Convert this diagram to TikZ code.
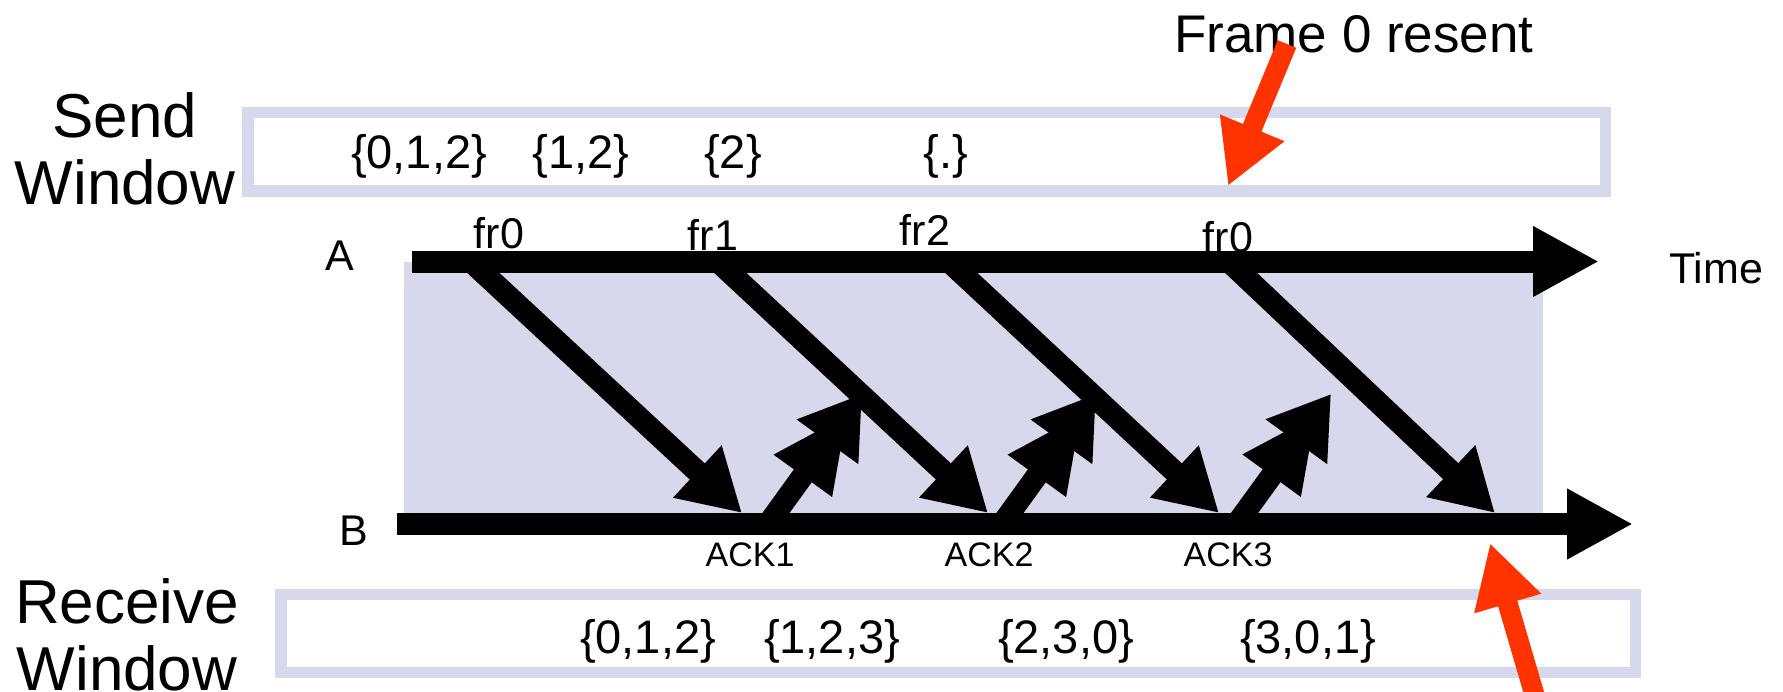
\documentclass[tikz,border=0pt]{standalone}
\usepackage{fontspec}
\setmainfont{Liberation Sans}
\usetikzlibrary{arrows.meta}
\definecolor{lav}{RGB}{215,216,235}
\definecolor{redc}{RGB}{255,51,0}
\begin{document}
\begin{tikzpicture}[x=1pt,y=-1pt,
  big/.style={font=\fontsize{62}{67}\selectfont, align=center, anchor=base, inner sep=0pt},
  setl/.style={font=\fontsize{47}{50}\selectfont, anchor=base, inner sep=0pt},
  frl/.style={font=\fontsize{43}{46}\selectfont, anchor=base, inner sep=0pt},
  ackl/.style={font=\fontsize{34}{36}\selectfont, anchor=base, inner sep=0pt},
  axl/.style={font=\fontsize{43}{45}\selectfont, anchor=base, inner sep=0pt},
  winbox/.style={draw=lav, line width=11.5pt},
  axisarrow/.style={line width=22pt, -{Triangle[length=66pt,width=66pt]}},
  frmarrow/.style={line width=22pt, -{Triangle[length=61pt,width=67pt]}},
  ackarrow/.style={line width=22pt, -{Triangle[length=77pt,width=66pt,sep=-35pt] Triangle[length=59pt,width=72pt]}},
  redarrow/.style={draw=redc, line width=20pt, -{Triangle[length=63pt,width=65pt]}}]
\useasboundingbox (0,0) rectangle (1783,691);

% shaded time region
\fill[lav] (404,261.7) rectangle (1543.3,524);

% window boxes
\draw[winbox] (248,112.5) rectangle (1605.5,191);
\draw[winbox] (281,594.5) rectangle (1635.5,672.5);

% side labels (base anchor = baseline of last line)
\node[big] (sendlbl) at (125,204) {Send\\Window};
\node[big] (recvlbl) at (127,690) {Receive\\Window};

% send window contents
\node[setl] (s1) at (419,168) {\{0,1,2\}};
\node[setl] (s2) at (581,168) {\{1,2\}};
\node[setl] (s3) at (733,168) {\{2\}};
\node[setl] (s4) at (946,168) {\{.\}};

% receive window contents
\node[setl] (r1) at (648,653) {\{0,1,2\}};
\node[setl] (r2) at (832,653) {\{1,2,3\}};
\node[setl] (r3) at (1066,653) {\{2,3,0\}};
\node[setl] (r4) at (1308,653) {\{3,0,1\}};

% axes
\coordinate (a0) at (412,261.5);
\coordinate (a1) at (1599,261.5);
\coordinate (b0) at (397,524);
\coordinate (b1) at (1633,524);
\draw[axisarrow] (a0) -- (a1);
\draw[axisarrow] (b0) -- (b1);
\node[axl] (alab) at (340,270) {A};
\node[axl] (blab) at (354,545) {B};
\node[axl] (timelab) at (1716,283) {Time};

% frame labels
\node[frl] (fr0) at (499,248) {fr0};
\node[frl] (fr1) at (713,250) {fr1};
\node[frl] (fr2) at (925,245) {fr2};
\node[frl] (fr0b) at (1228,252) {fr0};

% frame arrows A -> B
\coordinate (f1s) at (471,261.5);  \coordinate (f1e) at (742,513);
\coordinate (f2s) at (718,261.5);  \coordinate (f2e) at (988,513);
\coordinate (f3s) at (949,261.5);  \coordinate (f3e) at (1219,513);
\coordinate (f4s) at (1229,261.5); \coordinate (f4e) at (1495,513);
\draw[frmarrow] (f1s) -- (f1e);
\draw[frmarrow] (f2s) -- (f2e);
\draw[frmarrow] (f3s) -- (f3e);
\draw[frmarrow] (f4s) -- (f4e);

% ack arrows B -> up
\coordinate (k1s) at (768,524);    \coordinate (k1e) at (862,394);
\coordinate (k2s) at (1002,524);   \coordinate (k2e) at (1096,394);
\coordinate (k3s) at (1236.5,524); \coordinate (k3e) at (1331,394);
\draw[ackarrow] (k1s) -- (k1e);
\draw[ackarrow] (k2s) -- (k2e);
\draw[ackarrow] (k3s) -- (k3e);
\node[ackl] (ack1) at (750,566) {ACK1};
\node[ackl] (ack2) at (989,566) {ACK2};
\node[ackl] (ack3) at (1228,566) {ACK3};

% resent annotation
\node[font=\fontsize{53}{56}\selectfont, anchor=base, inner sep=0pt] (resent) at (1354,52) {Frame 0 resent};
\coordinate (rt0) at (1287,44);   \coordinate (rt1) at (1228,186);
\coordinate (rb0) at (1536,700);  \coordinate (rb1) at (1490,543);
\draw[redarrow] (rt0) -- (rt1);
\draw[redarrow] (rb0) -- (rb1);
\end{tikzpicture}
\end{document}
